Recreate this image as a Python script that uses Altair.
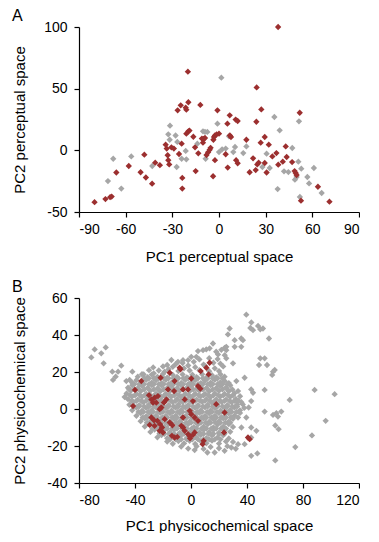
import altair as alt
import pandas as pd

# ---------------- Panel A: perceptual space ----------------
a_red_x = [-80, -73, -70, -69, -66, -58, -48, -50.4, -47, -43, -41, -38, -34.3, -33.6, -33, -32.6, -32,
           -30.6, -29, -26.6, -24.6, -25.7, -24, -23.6, -23.6, -21.4, -21, -20, -19.7, -21, -19.7, -19,
           -16.5, -15.4, -15, -13.3, -12, -11, -10.3, -9.9, -9, -8, -7, -6, -5.4, -3.6, -3.8, -3.2, -2.6,
           -2.6, -1.5, -1, 0, 4.3, 5.4, 5.6, 6.9, 7, 7.7, 10.7, 12, 11, 12, 17.6, 19.7, 21.9, 23.6, 24,
           24.2, 24.6, 25.5, 26.8, 27.2, 29.4, 29.4, 30.6, 32, 34.3, 36.9, 38, 38.1, 41, 42.9, 43.5, 47,
           48.6, 49.3, 49.9, 51.9, 52.7, 63.6, 71]
a_red_y = [-42, -39.5, -38, -37.5, -18, -12.7, -3.5, -17.8, -22, -27, -10, -12, 4.6, 1.4, -4, -8, -11.4,
           2.4, 1.4, 32.4, 36.5, -3, 5.4, -22.4, -31, 34.6, 33, 63.8, 39, 13.5, 15.4, 16,
           11, 2.4, -16.8, -2.4, 36.8, 9.5, 6.2, 9.2, 10, -3.8, -1.6, 0.5, 2, 8.6, -21, 10.8, 12,
           -8, 13, 32.4, 13.5, -3.2, 21.6, -14, 28.4, 12, 10.8, 24.9, 23.8, -8, -10.5, 8.6, -17.8, -6.5, -16, 23.2,
           51, -11.4, -10, 6.2, 33.2, -10.3, 10.8, -18, 4.6, -4.9, -2.2, 100, -11.6, -9.2, 3.2, -5.4, -9.5,
           -16.8, -18.4, -20, 30.5, -40.8, -29.5, -41.6]
a_gray_x = [-68, -71.4, -62.8, -56.4, -42.9, -31.5, -32.6, -31.7, -27.9, -27.2, -24, -26.8, -21.4, -21,
            -13.9, -10.3, -9, -8.6, -7.5, -1, 0, 1.5, 2, 4.3, 6.4, 9.2, 10.3, 15.6, 17.6, 27.9, 30.6,
            32.6, 35.6, 37.7, 39, 41.8, 44.6, 47.1, 48.8, 51, 51.4, 52.9, 52, 56.8, 57.9, 61, 66, 49.9]
a_gray_y = [-6.8, -24.9, -31, -4.9, -12.7, 20, 13, 8.6, 12, -13.5, -6.8, 6.8, -0.5, -7.3,
            5.4, 15.4, 15, -6.8, 14.9, 21.6, -1.4, 58.9, 0.8, 1.4, 11.4, -1.4, 2.7, -2.2, 3.2, -13.5, -2.7,
            -14.3, 27, -31.4, 16.2, -17, -17.6, 1.9, -23.8, -9.2, 23.5, -14.9, -37.8, -21.6, -26.8, -14.3, -34.6, -21.6]

# ---------------- Panel B: physicochemical space ----------------
b_red_x = [-41.4, -40, -35.5, -21.7, -15.2, -8.1, -7.5, 0.2, 6.9, 11, 13.3, 12.6, 5, 6.7, -2.1, -5.7, -11.7,
           -12.1, -16.4, -19.3, -21.2, -23.6, -26, -28.3, -24.8, -22.4, -27.1, -30, -17.6, -4.5, 1.4,
           -0.9, 0.2, 2.6, 5, 18, 24, 23.6, -28.3, -26.4, -24, -22.1, -20.7, -22.4, -26, -29.5, -20,
           -18.8, -15.2, -13.3, -13.6, -11.7, -9.8, -6.9, -5.7, -4.5, -2.1, -1, 1.4, 2.6, -0.7, -5.7,
           8.3, 9, 40.7, 41.9]
b_red_y = [1.6, 10.3, 15.1, 16.9, 19.6, 22.3, 21.5, 16.5, 20.5, 22.3, 25, 18.7, 12.4, 11, 10.6, 10.6, 15.1,
           9.7, 10.6, 3.5, 0.8, 7, 6.1, 5.2, 3.4, -0.1, 3.4, 7.5, 5.2, 5.2, 4.3,
           -1, -2.8, -4.6, -6.4, 2.6, -1.9, -12.7, -4.6, -6.1, -6.4, -8.2, -10, -11.8, -9.1, -8.6, -12.7,
           -5.5, -7.3, -8.8, -14.5, -15.4, -15.1, -9.1, -10, -11.8, -13.6, -14.5, -14, -12.7, -15.8, -4.6,
           -19, -17.2, -15.4, -16.3]

b_gray_pts = [
    # outliers, left
    (-68.8, 32.2), (-60.9, 33.3), (-71.2, 27.9), (-64.1, 30.1), (-62.4, 24.7), (-49.8, 23.4), (-56.2, 20.2),
    (-52.1, 20.2), (-53.8, 17.5), (-55.7, 15.7), (-41.9, 20.2), (-46.2, 15.1), (-43.8, 15.7), (-33.8, 18.7),
    (-26.6, 19.3), (-18.8, 20.2), (-47.4, 6.5),
    # upper edge and upper right
    (39.5, 51), (43.1, 46.8), (42.4, 43.8), (44.3, 42.6), (47.9, 44.9), (49.5, 43.1), (27.6, 43.5), (26.4, 40.3),
    (31.2, 37.2), (31.2, 33.6), (35.9, 38.1), (37.1, 37.2), (35.9, 33.6), (25.2, 33.6), (25.2, 31.8), (24.1, 29.1),
    (25.2, 27.4), (30, 24.7), (48.6, 23.8), (49.5, 27.4), (15.7, 35.4), (13.3, 32.8), (10.9, 32.2), (8.6, 31.8),
    (5, 31.3), (3.8, 28.2), (0.2, 28.2), (-2.1, 26.4), (-5.7, 26.4), (-9.3, 25.5), (51.4, 43.5), (55.7, 38.1),
    (52.6, 27.4), (54.3, 23.8), (58.6, 20.2), (59.8, 21.1), (58, 18.4), (18, 31), (19.3, 29.5), (21.7, 32), (24, 33),
    # far right
    (52.6, 10.3), (88.3, 10.3), (102.6, 8), (70.5, 4.9), (52.6, -1.4), (58.6, -3.2), (61, -2.3), (62.1, -4.1),
    (64.5, -1.4), (60.2, -8.9), (62.6, -10.9), (96.2, -6.4), (86.4, -14.3), (74.5, -20.6), (60.2, -27.8),
    (32.4, 15.1), (38.3, 16.9), (43, 10.6), (44.3, 8.8), (43, 4.3), (41.2, 0.8), (39.5, -4.6), (43, -10),
    (46.7, -11.8), (43, -15.4), (43, -25.3), (47.4, -24), (38.3, -19), (33.6, -19), (28.8, -20.8), (24, -22.6),
    (16.9, -23.5), (11.7, -23.5), (2.6, -22.2), (36, -10), (33.6, -4.6), (37, 2.5), (32.4, 4.3), (33.6, 9.7),
    # core
    (-14, 26.5), (-11, 24.2), (-6, 24.8), (-2, 23.5), (2, 25.5), (6, 26.8), (9, 24), (13, 27.5), (16, 25),
    (19, 27), (21, 24.5), (-17, 23.8),
    (-30, 21), (-27, 22.5), (-23, 20.8), (-20, 23), (-16, 21.5), (-13, 22.8), (-9, 20.5), (-5, 22), (-1, 20.8),
    (3, 22.6), (6, 21), (10, 23.2), (13, 20.4), (17, 22), (20, 20.5), (23, 23),
    (-38, 17.5), (-35, 18.8), (-31, 17.2), (-28, 18.6), (-24, 17.4), (-20, 18.9), (-17, 17), (-13, 18.4),
    (-10, 17.3), (-6, 18.7), (-3, 17.1), (1, 18.5), (4, 17.2), (8, 18.8), (11, 17), (15, 18.3), (18, 17.1),
    (21, 18.8), (24, 17.5),
    (-42, 14.2), (-39, 15.6), (-35, 14.1), (-32, 15.8), (-28, 14.3), (-25, 15.5), (-21, 14), (-18, 15.7),
    (-14, 14.2), (-11, 15.5), (-7, 14.1), (-4, 15.8), (0, 14.3), (3, 15.6), (7, 14), (10, 15.4), (14, 14.2),
    (17, 15.8), (21, 14.4), (24, 15.2), (27, 14),
    (-45, 11.5), (-42, 12.8), (-38, 11.2), (-35, 12.6), (-31, 11.4), (-28, 12.9), (-24, 11.1), (-21, 12.7),
    (-17, 11.3), (-14, 12.5), (-10, 11.2), (-7, 12.8), (-3, 11.4), (0, 12.6), (4, 11), (7, 12.7), (11, 11.3),
    (14, 12.9), (18, 11.2), (21, 12.5), (25, 11.6), (28, 12.8),
    (-46, 8.4), (-43, 9.8), (-39, 8.2), (-36, 9.6), (-32, 8.1), (-29, 9.9), (-25, 8.3), (-22, 9.5), (-18, 8.2),
    (-15, 9.7), (-11, 8.4), (-8, 9.8), (-4, 8.1), (-1, 9.6), (3, 8.3), (6, 9.9), (10, 8.2), (13, 9.5),
    (17, 8.4), (20, 9.8), (24, 8.1), (27, 9.6), (31, 8.5),
    (-45, 5.3), (-42, 6.8), (-38, 5.1), (-35, 6.6), (-31, 5.4), (-28, 6.9), (-24, 5.2), (-21, 6.5), (-17, 5.1),
    (-14, 6.7), (-10, 5.4), (-7, 6.8), (-3, 5.2), (0, 6.6), (4, 5.1), (7, 6.9), (11, 5.3), (14, 6.5), (18, 5.2),
    (21, 6.8), (25, 5.1), (28, 6.6), (32, 5.4), (35, 6.9),
    (-44, 2.3), (-41, 3.8), (-37, 2.1), (-34, 3.6), (-30, 2.4), (-27, 3.9), (-23, 2.2), (-20, 3.5), (-16, 2.1),
    (-13, 3.7), (-9, 2.4), (-6, 3.8), (-2, 2.2), (1, 3.6), (5, 2.1), (8, 3.9), (12, 2.3), (15, 3.5), (19, 2.2),
    (22, 3.8), (26, 2.1), (29, 3.6), (33, 2.4), (36, 3.7),
    (-42, -0.7), (-39, 0.8), (-35, -0.9), (-32, 0.6), (-28, -0.6), (-25, 0.9), (-21, -0.8), (-18, 0.5),
    (-14, -0.9), (-11, 0.7), (-7, -0.6), (-4, 0.8), (0, -0.9), (3, 0.6), (7, -0.7), (10, 0.9), (14, -0.8),
    (17, 0.5), (21, -0.9), (24, 0.7), (28, -0.6), (31, 0.8), (35, -0.7), (38, 0.6),
    (-39, -3.7), (-36, -2.2), (-32, -3.9), (-29, -2.4), (-25, -3.6), (-22, -2.1), (-18, -3.8), (-15, -2.3),
    (-11, -3.7), (-8, -2.2), (-4, -3.9), (-1, -2.4), (3, -3.6), (6, -2.1), (10, -3.8), (13, -2.3), (17, -3.7),
    (20, -2.2), (24, -3.9), (27, -2.4), (31, -3.6), (35, -2.1),
    (-36, -6.6), (-33, -5.1), (-29, -6.8), (-26, -5.3), (-22, -6.5), (-19, -5.2), (-15, -6.9), (-12, -5.4),
    (-8, -6.6), (-5, -5.1), (-1, -6.8), (2, -5.3), (6, -6.5), (9, -5.2), (13, -6.9), (16, -5.4), (20, -6.6),
    (23, -5.1), (27, -6.8), (30, -5.3),
    (-33, -9.5), (-30, -8.1), (-26, -9.8), (-23, -8.3), (-19, -9.6), (-16, -8.2), (-12, -9.9), (-9, -8.4),
    (-5, -9.5), (-2, -8.1), (2, -9.8), (5, -8.3), (9, -9.6), (12, -8.2), (16, -9.9), (19, -8.4), (23, -9.5),
    (27, -8.1), (30, -9.7),
    (-29, -12.4), (-26, -11.1), (-22, -12.8), (-19, -11.3), (-15, -12.5), (-12, -11.2), (-8, -12.9),
    (-5, -11.4), (-1, -12.6), (2, -11.1), (6, -12.7), (9, -11.3), (13, -12.5), (16, -11.2), (20, -12.8),
    (24, -11.4), (28, -12.3),
    (-24, -15.3), (-21, -14.1), (-17, -15.8), (-14, -14.3), (-10, -15.5), (-7, -14.2), (-3, -15.7), (0, -14.4),
    (4, -15.6), (7, -14.1), (11, -15.8), (15, -14.3), (19, -15.4), (23, -14.2), (27, -15.9),
    (-17, -17.6), (-13, -18.8), (-9, -17.3), (-5, -18.6), (-1, -17.2), (3, -18.9), (7, -17.4), (11, -18.5),
    (15, -17.1), (20, -18.7), (25, -17.5), (30, -17.8),
    (-7, -20.3), (-2, -21.4), (4, -20.2), (9, -21.6), (14, -20.5), (20, -21.2), (26, -20.1), (32, -21.5),
]

# extra gray points filling the dense core of the cloud, one row per PC2 value
b_gray_core_rows = [
    (16.6, [-33.5, -30, -26.5, -23, -19.5, -16, -12.5, -9, -5.5, -2, 1.5, 5, 8.5, 12, 15.5, 19, 22.5]),
    (13.4, [-40.5, -37, -33.5, -30, -26.5, -23, -19.5, -16, -12.5, -9, -5.5, -2, 1.5, 5, 8.5, 12, 15.5, 19, 22.5, 26]),
    (10.6, [-44, -40.5, -37, -33.5, -30, -26.5, -23, -19.5, -16, -12.5, -9, -5.5, -2, 1.5, 5, 8.5, 12, 15.5, 19,
            22.5, 26, 29.5]),
    (7.4, [-43.5, -40, -36.5, -33, -29.5, -26, -22.5, -19, -15.5, -12, -8.5, -5, -1.5, 2, 5.5, 9, 12.5, 16, 19.5,
           23, 26.5, 30]),
    (4.4, [-42.5, -39, -35.5, -32, -28.5, -25, -21.5, -18, -14.5, -11, -7.5, -4, -0.5, 3, 6.5, 10, 13.5, 17, 20.5,
           24, 27.5, 31, 34]),
    (1.4, [-40.5, -37, -33.5, -30, -26.5, -23, -19.5, -16, -12.5, -9, -5.5, -2, 1.5, 5, 8.5, 12, 15.5, 19, 22.5,
           26, 29.5, 33]),
    (-1.6, [-37.5, -34, -30.5, -27, -23.5, -20, -16.5, -13, -9.5, -6, -2.5, 1, 4.5, 8, 11.5, 15, 18.5, 22, 25.5,
            29, 32.5]),
    (-4.6, [-34.5, -31, -27.5, -24, -20.5, -17, -13.5, -10, -6.5, -3, 0.5, 4, 7.5, 11, 14.5, 18, 21.5, 25, 28.5]),
    (-7.4, [-31.5, -28, -24.5, -21, -17.5, -14, -10.5, -7, -3.5, 0, 3.5, 7, 10.5, 14, 17.5, 21, 24.5, 28]),
    (-10.6, [-27.5, -24, -20.5, -17, -13.5, -10, -6.5, -3, 0.5, 4, 7.5, 11, 14.5, 18, 21.5, 25]),
    (-13.4, [-22.5, -19, -15.5, -12, -8.5, -5, -1.5, 2, 5.5, 9, 12.5, 16, 20, 24]),
    (-16.4, [-15, -11, -7, -3, 1, 5, 9, 13, 17, 21]),
]

b_gray_x = [p[0] for p in b_gray_pts] + [x for y, xs in b_gray_core_rows for x in xs]
b_gray_y = [p[1] for p in b_gray_pts] + [y for y, xs in b_gray_core_rows for x in xs]

GRAY = "#a6a6a6"
RED = "#9c2f2f"
FONT = "Liberation Sans"


def panel(gx, gy, rx, ry, xdom, ydom, xticks, yticks, xtitle, ytitle, letter, xtitle_pad):
    df = pd.DataFrame({
        "x": list(gx) + list(rx),
        "y": list(gy) + list(ry),
        "g": ["gray"] * len(gx) + ["red"] * len(rx),
    })
    return alt.Chart(df).mark_point(
        shape="diamond", filled=True, size=40, opacity=1, strokeWidth=0
    ).encode(
        x=alt.X("x:Q",
                scale=alt.Scale(domain=xdom, nice=False, zero=False),
                axis=alt.Axis(values=xticks, title=xtitle, labelExpr="'' + datum.value",
                              labelPadding=5, titlePadding=xtitle_pad)),
        y=alt.Y("y:Q",
                scale=alt.Scale(domain=ydom, nice=False, zero=False),
                axis=alt.Axis(values=yticks, title=ytitle, labelExpr="'' + datum.value",
                              labelPadding=7, titleX=-52)),
        color=alt.Color("g:N", scale=alt.Scale(domain=["gray", "red"], range=[GRAY, RED]), legend=None),
    ).properties(
        width=280, height=185,
        title=alt.TitleParams(letter, anchor="start", frame="bounds", fontSize=16,
                              fontWeight="normal", font=FONT, color="black", offset=-4),
    )


pa = panel(a_gray_x, a_gray_y, a_red_x, a_red_y, [-90, 90], [-50, 100],
           [-90, -60, -30, 0, 30, 60, 90], [-50, 0, 50, 100],
           "PC1 perceptual space", "PC2 perceptual space", "A", 13)
pb = panel(b_gray_x, b_gray_y, b_red_x, b_red_y, [-80, 120], [-40, 60],
           [-80, -40, 0, 40, 80, 120], [-40, -20, 0, 20, 40, 60],
           "PC1 physicochemical space", "PC2 physicochemical space", "B", 11)

chart = alt.vconcat(pa, pb, spacing=15).properties(
    padding={"left": 3, "top": 0, "right": 0, "bottom": 0}
).configure_view(stroke=None).configure_axis(
    grid=False, domainColor="black", domainWidth=1.2, tickColor="black", tickSize=5, tickWidth=1.2,
    labelFont=FONT, labelFontSize=14, labelColor="black",
    titleFont=FONT, titleFontSize=15, titleFontWeight="normal", titleColor="black",
)

chart.save("out.html", embed_options={"renderer": "svg", "actions": False})
